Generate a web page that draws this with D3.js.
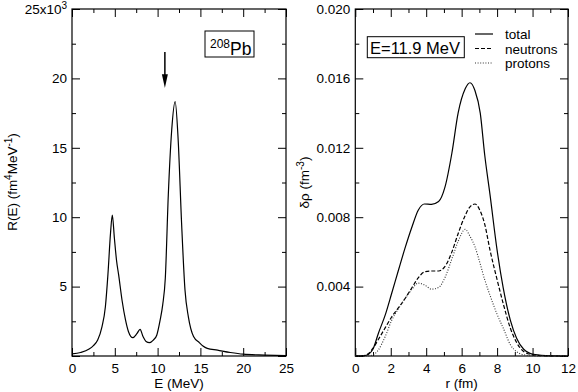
<!DOCTYPE html>
<html><head><meta charset="utf-8">
<script src="https://cdn.jsdelivr.net/npm/d3@7"></script>
<style>
body{margin:0;background:#fff;}
svg{display:block;font-family:"Liberation Sans",Arial,Helvetica,sans-serif;}
</style></head>
<body><svg id="c" width="578" height="392"></svg>
<script>
// ---- Left panel: strength function R(E), units 10^3 fm^4 MeV^-1
const energy = [0, 1, 2, 2.5, 3, 3.5, 3.9, 4.2, 4.5, 4.71, 4.95, 5.2, 5.45, 5.85, 6.25, 6.6, 7.1, 7.6, 7.95, 8.3, 8.65, 9.05, 9.5, 9.9, 10.3, 10.6, 10.9, 11.25, 11.65, 12.05, 12.4, 12.8, 13.2, 13.6, 14.2, 14.9, 15.3, 15.8, 17, 18.5, 20, 22.5, 25];
const strength = [0.15, 0.25, 0.5, 0.75, 1.15, 2.1, 3.55, 5.9, 8.85, 10.16, 8.5, 6.9, 5.84, 4.0, 2.6, 1.75, 1.32, 1.63, 1.92, 1.4, 1.05, 0.96, 1.15, 1.5, 2.6, 3.7, 5.6, 11.6, 16.3, 18.33, 15.6, 9.6, 4.75, 2.8, 1.4, 0.95, 0.72, 0.55, 0.42, 0.25, 0.13, 0.07, 0.03];
const leftXTicks = [0, 5, 10, 15, 20, 25];
const leftYTicks = [0, 5, 10, 15, 20, 25];

// ---- Right panel: transition density, units 10^-3 fm^-3
const radius = [0, 0.5, 0.75, 1.0, 1.3, 1.7, 2.05, 2.45, 2.8, 3.2, 3.55, 3.9, 4.3, 4.7, 5.05, 5.45, 5.8, 6.2, 6.47, 6.75, 7.05, 7.3, 7.6, 8.0, 8.35, 8.75, 9.1, 9.5, 10.05, 11, 12];
const total    = [0, 0.02, 0.1, 0.4, 1.3, 2.4, 3.6, 5.0, 6.2, 7.45, 8.4, 8.76, 8.74, 8.9, 9.7, 11.7, 14.0, 15.4, 15.75, 15.3, 14.0, 11.6, 9.3, 6.1, 3.9, 2.05, 1.02, 0.39, 0.1, 0.01, 0];
const neutrons = [0, 0.02, 0.15, 0.45, 0.95, 1.65, 2.25, 2.8, 3.3, 3.95, 4.5, 4.85, 4.9, 4.9, 5.15, 6.0, 7.05, 8.1, 8.6, 8.76, 8.35, 7.6, 6.1, 4.4, 3.0, 1.6, 0.78, 0.26, 0.06, 0, 0];
const protons  = [0, 0, 0.01, 0.06, 0.35, 1.15, 2.05, 2.75, 3.3, 3.85, 4.2, 4.1, 3.85, 3.95, 4.5, 5.6, 6.6, 7.3, 6.9, 6.3, 5.3, 4.4, 3.5, 2.4, 1.6, 0.65, 0.25, 0.07, 0.01, 0, 0];
const rightXTicks = [0, 2, 4, 6, 8, 10, 12];
const rightYTicks = [0, 0.004, 0.008, 0.012, 0.016, 0.020];
const legendLabels = ["total", "neutrons", "protons"];

const svg = d3.select("#c");
const FS = 13.5;

function frame(g, x, y, xMajor, xMinor, yMajor, yMinor, xFmt, yFmt) {
  const [x0, x1] = x.range(), [y1, y0] = y.range();
  const maj = 8, mn = 4;
  const ax = [
    [d3.axisBottom(x).tickValues(xMajor).tickSize(-maj).tickPadding(7).tickFormat(xFmt), `translate(0,${y1})`],
    [d3.axisBottom(x).tickValues(xMinor).tickSize(-mn).tickFormat(""), `translate(0,${y1})`],
    [d3.axisTop(x).tickValues(xMajor).tickSize(-maj).tickFormat(""), `translate(0,${y0})`],
    [d3.axisTop(x).tickValues(xMinor).tickSize(-mn).tickFormat(""), `translate(0,${y0})`],
    [d3.axisLeft(y).tickValues(yMajor).tickSize(-maj).tickPadding(5).tickFormat(yFmt), `translate(${x0},0)`],
    [d3.axisLeft(y).tickValues(yMinor).tickSize(-mn).tickFormat(""), `translate(${x0},0)`],
    [d3.axisRight(y).tickValues(yMajor).tickSize(-maj).tickFormat(""), `translate(${x1},0)`],
    [d3.axisRight(y).tickValues(yMinor).tickSize(-mn).tickFormat(""), `translate(${x1},0)`],
  ];
  const gs = [];
  ax.forEach(([a, t]) => {
    const gg = g.append("g").attr("transform", t).call(a.tickSizeOuter(0));
    gg.select(".domain").remove();
    gg.selectAll("line").attr("stroke", "#000").attr("stroke-width", 1);
    gg.attr("font-family", null).attr("font-size", FS);
    gg.selectAll("text").attr("fill", "#000");
    gs.push(gg);
  });
  g.append("rect").attr("x", x0).attr("y", y0).attr("width", x1 - x0).attr("height", y1 - y0)
    .attr("fill", "none").attr("stroke", "#000").attr("stroke-width", 1.2);
  return gs;
}

function minorOf(ticks, step) {
  const out = [];
  for (let i = 0; i < ticks.length - 1; i++) out.push(+(ticks[i] + step).toFixed(6));
  return out;
}

// ---------------- Left panel
const xL = d3.scaleLinear().domain([0, 25]).range([72, 286]);
const yL = d3.scaleLinear().domain([0, 25]).range([356, 9]);
const gL = svg.append("g");
const axL = frame(gL, xL, yL, leftXTicks, minorOf(leftXTicks, 2.5), leftYTicks, minorOf(leftYTicks, 2.5),
  d => String(d), d => d === 0 ? "" : String(d));
// 25x10^3 label
axL[4].selectAll(".tick text").filter(d => d === 25).each(function () {
  const t = d3.select(this); t.text("25x10");
  t.append("tspan").attr("dy", -5).attr("font-size", 10).text("3");
});
const lineL = d3.line().x((d, i) => xL(energy[i])).y(d => yL(d)).curve(d3.curveMonotoneX);
gL.append("path").attr("d", lineL(strength)).attr("fill", "none").attr("stroke", "#000").attr("stroke-width", 1.2);

gL.append("text").attr("x", xL(12.5)).attr("y", 388).attr("text-anchor", "middle").attr("font-size", FS).text("E (MeV)");
const tL = gL.append("text").attr("transform", "translate(16.5,182) rotate(-90)").attr("text-anchor", "middle").attr("font-size", FS);
tL.append("tspan").text("R(E) (fm");
tL.append("tspan").attr("dy", -5).attr("font-size", 10).text("4");
tL.append("tspan").attr("dy", 5).text("MeV");
tL.append("tspan").attr("dy", -5).attr("font-size", 10).text("-1");
tL.append("tspan").attr("dy", 5).text(")");

// 208Pb box
const pb = gL.append("text").attr("x", 210).attr("y", 55).attr("font-size", 17.5);
pb.append("tspan").attr("y", 48).attr("font-size", 12).text("208");
pb.append("tspan").attr("y", 55).text("Pb");
gL.append("rect").attr("x", 205).attr("y", 31).attr("width", 49).attr("height", 26)
  .attr("fill", "none").attr("stroke", "#000").attr("stroke-width", 1);

// arrow
const ax0 = xL(10.85);
gL.append("line").attr("x1", ax0).attr("x2", ax0).attr("y1", yL(21.9)).attr("y2", yL(20)).attr("stroke", "#000").attr("stroke-width", 1.5);
gL.append("path").attr("d", `M${ax0 - 3},${yL(20.3)} L${ax0 + 3},${yL(20.3)} L${ax0},${yL(19.3)} Z`).attr("fill", "#000");

// ---------------- Right panel
const xR = d3.scaleLinear().domain([0, 12]).range([355.3, 568]);
const yR = d3.scaleLinear().domain([0, 0.020]).range([356, 9]);
const gR = svg.append("g");
frame(gR, xR, yR, rightXTicks, minorOf(rightXTicks, 1), rightYTicks, minorOf(rightYTicks, 0.002),
  d => String(d), d => d === 0 ? "" : d3.format(".3f")(d));

const styles = [
  { data: total, dash: null, w: 1.2, c: "#000" },
  { data: neutrons, dash: "4,2", w: 1.2, c: "#000" },
  { data: protons, dash: "1,1.6", w: 1.1, c: "#333" },
];
const lineR = d3.line().x((d, i) => xR(radius[i])).y(d => yR(d * 1e-3)).curve(d3.curveMonotoneX);
styles.forEach(s => {
  gR.append("path").attr("d", lineR(s.data)).attr("fill", "none").attr("stroke", s.c)
    .attr("stroke-width", s.w).attr("stroke-dasharray", s.dash);
});

gR.append("text").attr("x", xR(6)).attr("y", 388).attr("text-anchor", "middle").attr("font-size", FS).text("r (fm)");
const tR = gR.append("text").attr("transform", "translate(309,182.5) rotate(-90)").attr("text-anchor", "middle").attr("font-size", FS);
tR.append("tspan").text("δρ (fm");
tR.append("tspan").attr("dy", -5).attr("font-size", 10).text("-3");
tR.append("tspan").attr("dy", 5).text(")");

// E=11.9 MeV box
gR.append("text").attr("x", 370).attr("y", 54.3).attr("font-size", 16.5).text("E=11.9 MeV");
gR.append("rect").attr("x", 367.3).attr("y", 36.7).attr("width", 97).attr("height", 21)
  .attr("fill", "none").attr("stroke", "#000").attr("stroke-width", 1);

// legend
legendLabels.forEach((lab, i) => {
  const yy = 34 + i * 14.5;
  const s = styles[i];
  gR.append("line").attr("x1", 475).attr("x2", 493).attr("y1", yy).attr("y2", yy)
    .attr("stroke", s.c).attr("stroke-width", s.w).attr("stroke-dasharray", s.dash);
  gR.append("text").attr("x", 505).attr("y", yy + 5).attr("font-size", FS).text(lab);
});
</script></body></html>
